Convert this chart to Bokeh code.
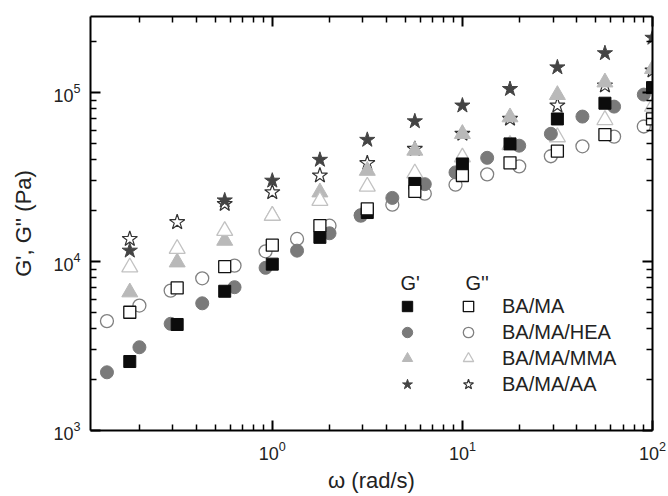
from bokeh.plotting import figure
from bokeh.models import (Range1d, LogAxis, FixedTicker, LogTickFormatter,
                          Legend, LegendItem, Label)
from bokeh.embed import file_html
from bokeh.resources import INLINE

nan = float("nan")

# frequencies (rad/s)
freq_main = [0.178, 0.316, 0.562, 1.0, 1.78, 3.16, 5.62, 10.0, 17.8, 31.6, 56.2, 100.0]
freq_hea = [0.135, 0.2, 0.292, 0.428, 0.633, 0.922, 1.35, 2.0, 2.92, 4.28,
            6.34, 9.2, 13.5, 19.9, 29.2, 42.8, 62.8, 90.0]

# BA/MA
ma_g1 = [2560, 4240, 6670, 9650, 13900, 19500, 29000, 37800, 49700, 69800, 86500, 107000]
ma_g2 = [5010, 6980, 9330, 12500, 16300, 20500, 26000, 32300, 38400, 45000, 56400, 69800]
# BA/MA/HEA
hea_g1 = [2210, 3110, 4280, 5660, 7050, 9180, 11600, 14700, 18800, 23800,
          28700, 33700, 41100, 48500, 57000, 72100, 82600, 97300]
hea_g2 = [4440, 5490, 6730, 7960, 9460, 11500, 13600, 16300, 18700, 21700,
          25200, 28500, 32800, 36600, 42000, 48100, 54900, 63000]
# BA/MA/MMA
mma_g1 = [6580, 9900, 13300, 18700, 25700, 34500, 45400, 57000, 71500, 96900, 115000, 138000]
mma_g2 = [9250, 11900, 15200, 18700, 22900, 27800, 33300, 41400, 49000, 54500, 68900, 82600]
# BA/MA/AA
aa_g1 = [11600, nan, 23000, 30100, 40000, 52500, 67600, 83800, 105000, 141000, 171000, 211000]
aa_g2 = [13600, 17100, 21900, 25700, 32300, 38200, 46400, 57000, 70000, 83800, 110000, 135000]

series_names = ["BA/MA", "BA/MA/HEA", "BA/MA/MMA", "BA/MA/AA"]

x_major = [1, 10, 100]
x_minor = [0.2, 0.3, 0.4, 0.5, 0.6, 0.7, 0.8, 0.9,
           2, 3, 4, 5, 6, 7, 8, 9, 20, 30, 40, 50, 60, 70, 80, 90]
y_major = [1e3, 1e4, 1e5]
y_minor = [2e3, 3e3, 4e3, 5e3, 6e3, 7e3, 8e3, 9e3,
           2e4, 3e4, 4e4, 5e4, 6e4, 7e4, 8e4, 9e4, 2e5]

FONT = "Liberation Sans"

p = figure(width=668, height=496, x_axis_type="log", y_axis_type="log",
           x_range=Range1d(0.1106, 100), y_range=Range1d(1000, 2.82e5),
           output_backend="svg", toolbar_location=None,
           min_border_left=90, min_border_right=16, min_border_top=16,
           min_border_bottom=66)
p.xgrid.visible = False
p.ygrid.visible = False
p.outline_line_color = None
p.background_fill_color = "white"


def style_axis(ax, major, minor, show_labels):
    ax.ticker = FixedTicker(ticks=major, minor_ticks=minor)
    ax.axis_line_width = 2
    ax.axis_line_color = "black"
    ax.major_tick_in = 10
    ax.major_tick_out = 0
    ax.minor_tick_in = 6
    ax.minor_tick_out = 0
    ax.major_tick_line_width = 2
    ax.minor_tick_line_width = 1.5
    ax.major_tick_line_color = "black"
    ax.minor_tick_line_color = "black"
    if show_labels:
        ax.formatter = LogTickFormatter()
        ax.major_label_text_font = FONT
        ax.major_label_text_font_size = "18px"
        ax.major_label_text_color = "#222222"
        ax.major_label_standoff = 10
    else:
        ax.major_label_text_font_size = "1px"
        ax.major_label_text_alpha = 0
        ax.major_label_standoff = 0


xb = p.below[0]
yl = p.left[0]
style_axis(xb, x_major, x_minor, True)
style_axis(yl, y_major, y_minor, True)
xt = LogAxis()
yr = LogAxis()
style_axis(xt, x_major, x_minor, False)
style_axis(yr, y_major, y_minor, False)
p.add_layout(xt, "above")
p.add_layout(yr, "right")

xb.axis_label = "ω (rad/s)"
yl.axis_label = "G', G'' (Pa)"
for ax, st in ((xb, 5), (yl, 14)):
    ax.axis_label_text_font = FONT
    ax.axis_label_text_font_size = "22px"
    ax.axis_label_text_font_style = "normal"
    ax.axis_label_text_color = "#222222"
    ax.axis_label_standoff = st

# colours
c_sq, c_ci, c_tr, c_st = "#0c0c0c", "#7a7a7a", "#b9b9b9", "#444444"
oc_sq, oc_ci, oc_tr, oc_st = "#111111", "#808080", "#c2c2c2", "#333333"

# draw order bottom -> top
r_aa2 = p.scatter(freq_main, aa_g2, marker="star", size=16, fill_color="white",
                  line_color=oc_st, line_width=1.2)
r_aa1 = p.scatter(freq_main, aa_g1, marker="star", size=16, fill_color=c_st,
                  line_color=c_st)
r_mma1 = p.scatter(freq_main, mma_g1, marker="triangle", size=16, fill_color=c_tr,
                   line_color=c_tr)
r_mma2 = p.scatter(freq_main, mma_g2, marker="triangle", size=16, fill_color="white",
                   line_color=oc_tr, line_width=1.3)
r_hea2 = p.scatter(freq_hea, hea_g2, marker="circle", size=13, fill_color="white",
                   line_color=oc_ci, line_width=1.3)
r_hea1 = p.scatter(freq_hea, hea_g1, marker="circle", size=13, fill_color=c_ci,
                   line_color=c_ci)
r_ma1 = p.scatter(freq_main, ma_g1, marker="square", size=12, fill_color=c_sq,
                  line_color=c_sq)
r_ma2 = p.scatter(freq_main, ma_g2, marker="square", size=12, fill_color="white",
                  line_color=oc_sq, line_width=1.3)

filled = [r_ma1, r_hea1, r_mma1, r_aa1]
opened = [r_ma2, r_hea2, r_mma2, r_aa2]


def make_legend(renderers, labels, x, y, standoff):
    leg = Legend(items=[LegendItem(label=l, renderers=[r]) for l, r in zip(labels, renderers)],
                 location=(x, y), orientation="vertical",
                 glyph_width=32, glyph_height=26, spacing=0,
                 padding=0, margin=0, label_standoff=standoff,
                 label_text_font=FONT, label_text_font_size="20px",
                 label_text_color="#222222", label_height=20,
                 border_line_color=None, background_fill_alpha=0)
    p.add_layout(leg, "center")
    return leg


make_legend(filled, [" ", " ", " ", " "], 301, 33, 2)
make_legend(opened, series_names, 362, 33, 18)

for txt, x in (("G'", 310), ("G''", 375)):
    p.add_layout(Label(x=x, y=148, x_units="screen", y_units="screen", text=txt,
                       text_font=FONT, text_font_size="20px", text_color="#222222",
                       text_baseline="middle", text_align="left"))

open("out.html", "w").write(file_html(p, INLINE))
